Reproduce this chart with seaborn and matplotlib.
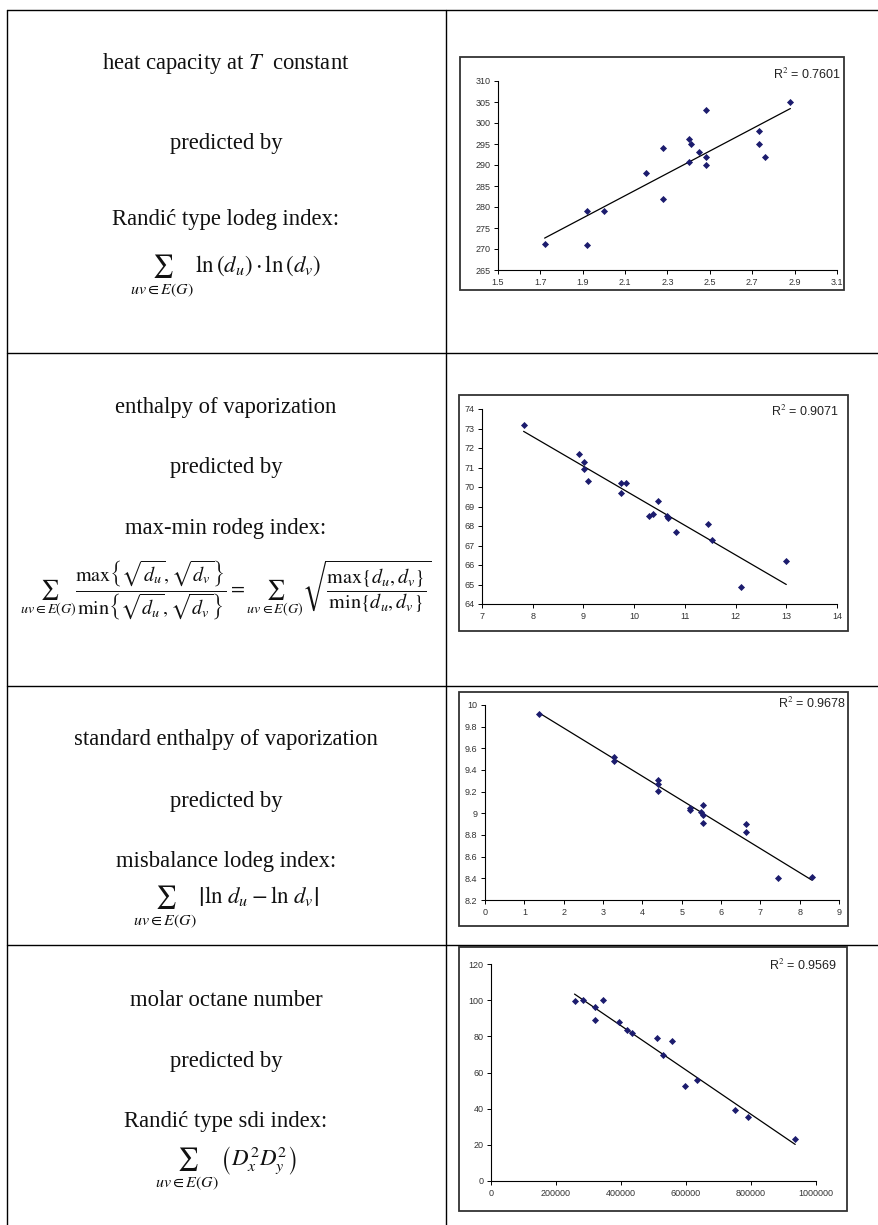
import numpy as np
import matplotlib
matplotlib.use("Agg")
import matplotlib.pyplot as plt
import seaborn as sns
from matplotlib.lines import Line2D
from matplotlib.patches import Rectangle
from matplotlib.ticker import FixedLocator, FuncFormatter

# ---- data ----
heat_x = [1.72, 1.92, 1.92, 2.00, 2.20, 2.28, 2.28, 2.40, 2.40, 2.41, 2.45,
          2.48, 2.48, 2.48, 2.73, 2.73, 2.76, 2.88]
heat_y = [271.2, 279.0, 270.9, 279.0, 288.0, 294.0, 282.0, 296.2, 290.8, 295.0, 293.0,
          303.0, 292.0, 290.0, 298.0, 295.0, 292.0, 305.0]
heat_xticks = [1.5, 1.7, 1.9, 2.1, 2.3, 2.5, 2.7, 2.9, 3.1]
heat_yticks = [265, 270, 275, 280, 285, 290, 295, 300, 305, 310]

vap_x = [7.82, 8.92, 9.01, 9.01, 9.10, 9.74, 9.74, 9.84, 10.29, 10.38, 10.48,
         10.65, 10.67, 10.83, 11.45, 11.54, 12.10, 13.00]
vap_y = [73.2, 71.7, 71.3, 70.9, 70.3, 70.2, 69.7, 70.2, 68.5, 68.6, 69.3,
         68.5, 68.4, 67.7, 68.1, 67.3, 64.85, 66.2]
vap_xticks = [7, 8, 9, 10, 11, 12, 13, 14]
vap_yticks = [64, 65, 66, 67, 68, 69, 70, 71, 72, 73, 74]

std_x = [1.38, 3.29, 3.29, 4.40, 4.40, 4.40, 5.20, 5.20, 5.50, 5.55, 5.55,
         5.55, 6.64, 6.64, 7.45, 8.31]
std_y = [9.92, 9.52, 9.48, 9.31, 9.27, 9.21, 9.05, 9.03, 9.01, 9.08, 8.98,
         8.91, 8.90, 8.83, 8.40, 8.41]
std_xticks = [0, 1, 2, 3, 4, 5, 6, 7, 8, 9]
std_yticks = [8.2, 8.4, 8.6, 8.8, 9.0, 9.2, 9.4, 9.6, 9.8, 10.0]

oct_x = [257000, 282000, 319000, 319000, 345000, 393000, 418000, 435000, 510000,
         528000, 557000, 598000, 633000, 750000, 790000, 936000]
oct_y = [99.5, 100, 96, 88.8, 100, 88.1, 83.3, 81.7, 78.9,
         69.9, 77.4, 52.5, 55.7, 39.1, 35.2, 23.2]
oct_xticks = [0, 200000, 400000, 600000, 800000, 1000000]
oct_yticks = [0, 20, 40, 60, 80, 100, 120]

r2_labels = ["R$^2$ = 0.7601", "R$^2$ = 0.9071", "R$^2$ = 0.9678", "R$^2$ = 0.9569"]

properties = [r"heat capacity at $T$  constant", "enthalpy of vaporization",
              "standard enthalpy of vaporization", "molar octane number"]
index_names = ["Randić type lodeg index:", "max-min rodeg index:",
               "misbalance lodeg index:", "Randić type sdi index:"]
formulas = [
    r"$\sum_{uv\in E(G)}\,\ln\left(d_u\right)\cdot\ln\left(d_v\right)$",
    r"$\sum_{uv\in E(G)}\dfrac{\max\left\{\sqrt{d_u},\sqrt{d_v}\right\}}"
    r"{\min\left\{\sqrt{d_u},\sqrt{d_v}\right\}}=\sum_{uv\in E(G)}"
    r"\sqrt{\dfrac{\max\left\{d_u,d_v\right\}}{\min\left\{d_u,d_v\right\}}}$",
    r"$\sum_{uv\in E(G)}\,\left|\ln\,d_u-\ln\,d_v\right|$",
    r"$\sum_{uv\in E(G)}\,\left(D_x^2D_y^2\right)$",
]

# ---- style ----
sns.set_theme(style="white")
plt.rcParams["font.family"] = ["Liberation Sans", "DejaVu Sans"]
plt.rcParams["mathtext.fontset"] = "stix"

W, H = 879, 1225
fig = plt.figure(figsize=(W / 100, H / 100), dpi=100)
fig.patch.set_facecolor("white")


def fx(px):
    return px / W


def fy(py):
    return 1 - py / H


def fig_line(x0, y0, x1, y1, lw=1.0):
    fig.add_artist(Line2D([fx(x0), fx(x1)], [fy(y0), fy(y1)],
                          transform=fig.transFigure, color="black", lw=lw))


# table grid (cropped at right and bottom like the source)
fig_line(7, 10, W, 10)
for y in (353, 686, 945):
    fig_line(7, y, W, y)
fig_line(7, 10, 7, H)
fig_line(446, 10, 446, H)

# left column text
serif = ["Liberation Serif", "DejaVu Serif"]
text_rows = [(63, 143, 220, 276), (407, 468, 528, 590),
             (740, 801, 861, 907), (1000, 1061, 1122, 1168)]
formula_sizes = [16.5, 14.5, 16.5, 16.5]
for i, (y1, y2, y3, y4) in enumerate(text_rows):
    for yy, txt in ((y1, properties[i]), (y2, "predicted by"), (y3, index_names[i])):
        fig.text(fx(226), fy(yy), txt, ha="center", va="center",
                 fontsize=16.3, family=serif, color="#111111")
    fig.text(fx(226), fy(y4), formulas[i], ha="center", va="center",
             fontsize=formula_sizes[i], color="#111111")

# right column charts
charts = [
    dict(x=heat_x, y=heat_y, xt=heat_xticks, yt=heat_yticks,
         box=(460, 57, 844, 290), plot=(498, 81, 837, 270), r2=(841, 74)),
    dict(x=vap_x, y=vap_y, xt=vap_xticks, yt=vap_yticks,
         box=(459, 395, 848, 631), plot=(482, 409, 837, 604), r2=(839, 411)),
    dict(x=std_x, y=std_y, xt=std_xticks, yt=std_yticks,
         box=(459, 692, 848, 926), plot=(485, 705, 839, 900), r2=(846, 703)),
    dict(x=oct_x, y=oct_y, xt=oct_xticks, yt=oct_yticks,
         box=(459, 947, 847, 1211), plot=(491, 964, 816, 1181), r2=(837, 965)),
]

marker_color = "#1c1c6e"
for i, c in enumerate(charts):
    bl, bt, br, bb = c["box"]
    fig.add_artist(Rectangle((fx(bl), fy(bb)), fx(br - bl), (bb - bt) / H,
                             transform=fig.transFigure, fill=False,
                             edgecolor="#333333", lw=1.3))
    l, t, r, b = c["plot"]
    ax = fig.add_axes([fx(l), fy(b), fx(r - l), (b - t) / H])
    ax.set_facecolor("none")
    sns.regplot(x=np.array(c["x"]), y=np.array(c["y"]), ax=ax, ci=None,
                marker="D", color=marker_color,
                scatter_kws=dict(s=13, linewidths=0, color=marker_color,
                                 alpha=1, zorder=3),
                line_kws=dict(color="black", lw=0.9))
    ax.set_xlim(c["xt"][0], c["xt"][-1])
    ax.set_ylim(c["yt"][0], c["yt"][-1])
    ax.xaxis.set_major_locator(FixedLocator(c["xt"]))
    ax.yaxis.set_major_locator(FixedLocator(c["yt"]))
    fmt = FuncFormatter(lambda v, p: "%g" % v if abs(v) < 1e5 else "%d" % round(v))
    ax.xaxis.set_major_formatter(fmt)
    ax.yaxis.set_major_formatter(fmt)
    ax.set_xlabel("")
    ax.set_ylabel("")
    for s in ("top", "right"):
        ax.spines[s].set_visible(False)
    for s in ("left", "bottom"):
        ax.spines[s].set_color("black")
        ax.spines[s].set_linewidth(0.8)
    ax.tick_params(bottom=True, left=True, direction="out", length=3, width=0.7,
                   color="black", labelsize=6.5, labelcolor="#333333", pad=2.5)
    ax.grid(False)
    fig.text(fx(c["r2"][0]), fy(c["r2"][1]), r2_labels[i], ha="right", va="center",
             fontsize=9, color="#222222")

fig.savefig("out.png", dpi=100, facecolor="white")
